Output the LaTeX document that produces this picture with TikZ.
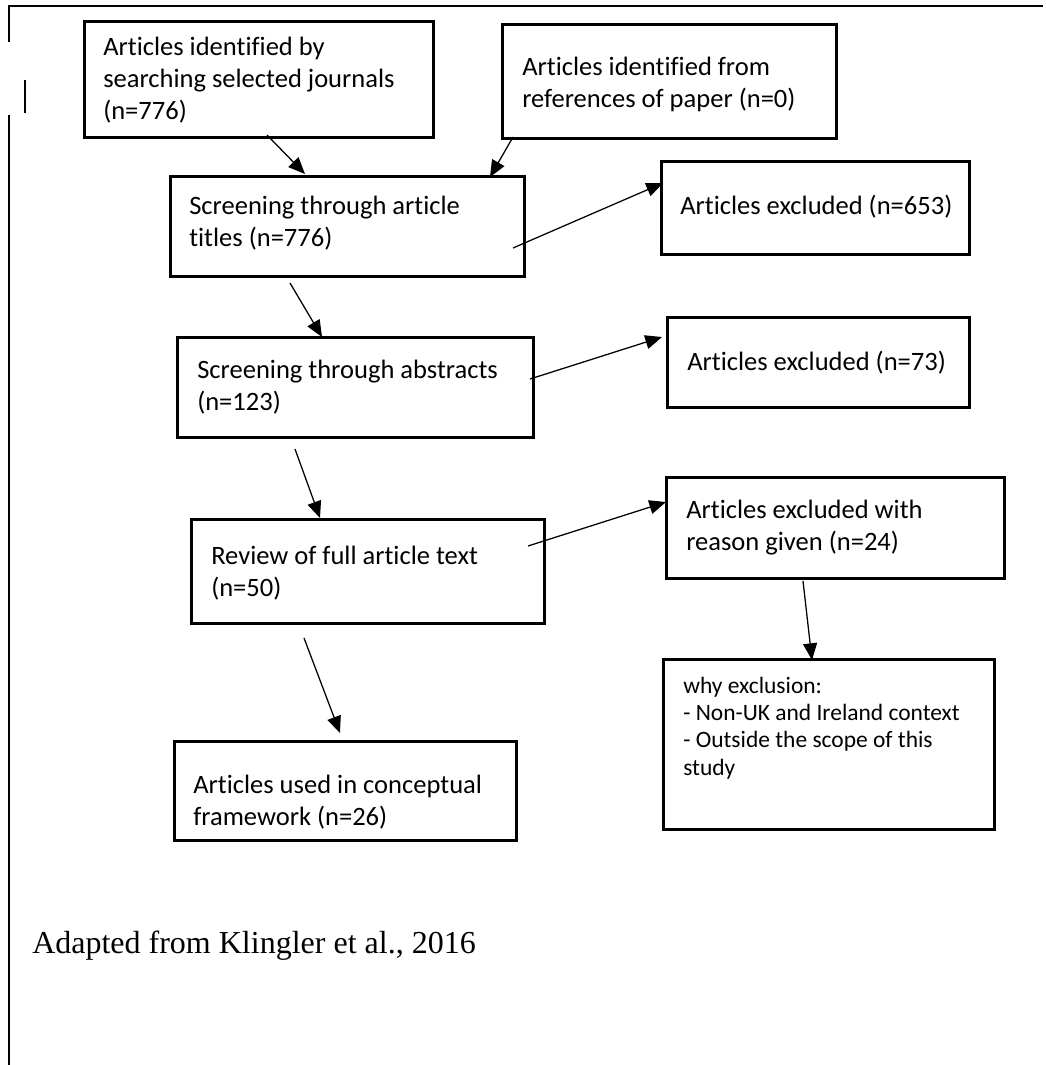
\documentclass[tikz,border=0pt]{standalone}
\usepackage{fontspec}
\setmainfont{Carlito}[Ligatures={NoCommon,NoContextual}]
\newfontfamily\capfont{Liberation Serif}
\usetikzlibrary{arrows.meta}
\newcommand\ml[2][24pt]{\vtop{\baselineskip=#1\halign{##\hfil\cr#2\crcr}}}
\newcommand\bx[5]{\node[box, anchor=north west, minimum width={(#4-#2)*0.75pt}, minimum height={(#5-#3)*0.75pt}] (#1) at (#2,#3) {};}
\begin{document}
\begin{tikzpicture}[x=0.75pt,y=-0.75pt,
  box/.style={draw=black, line width=2.1pt, inner sep=0pt, fill=none},
  txt/.style={inner sep=0pt, anchor=base west, font=\fontsize{19.9pt}{24pt}\selectfont},
  smalltxt/.style={inner sep=0pt, anchor=base west, font=\fontsize{17.6pt}{20.6pt}\selectfont},
  arr/.style={line width=0.95pt, -{Triangle[length=12.5pt, width=10.5pt]}},
  frame/.style={line width=2pt}]
\useasboundingbox (0,0) rectangle (1046,1065);
% frame fragments
\draw[frame] (9,42) -- (9,6) -- (1043,6);
\draw[frame] (25,80) -- (25,113);
\draw[frame] (9,115) -- (9,1065);
% boxes
\bx{b1}{83}{20}{432}{136}
\bx{b2}{501}{23}{835}{137}
\bx{b3}{169}{175}{523}{275}
\bx{b4}{660}{160}{968}{253}
\bx{b5}{176}{336}{532}{436}
\bx{b6}{666}{316}{968}{406}
\bx{b7}{190}{518}{543}{622}
\bx{b8}{665}{476}{1003}{577}
\bx{b9}{662}{658}{993}{828}
\bx{b10}{173}{740}{515}{839}
% texts
\node[txt] (t1) at (103,55) {\ml{Articles identified by\cr searching selected journals\cr (n=776)}};
\node[txt] (t2) at (522,75) {\ml{Articles identified from\cr references of paper (n=0)}};
\node[txt] (t3) at (189,214) {\ml{Screening through article\cr titles (n=776)}};
\node[txt] (t4) at (680,214) {Articles excluded (n=653)};
\node[txt] (t5) at (197,378) {\ml{Screening through abstracts\cr (n=123)}};
\node[txt] (t6) at (687,370) {Articles excluded (n=73)};
\node[txt] (t7) at (211,564) {\ml{Review of full article text\cr (n=50)}};
\node[txt] (t8) at (686,518) {\ml{Articles excluded with\cr reason given (n=24)}};
\node[smalltxt] (t9) at (683,693) {\ml[20.6pt]{why exclusion:\cr - Non-UK and Ireland context\cr - Outside the scope of this\cr study}};
\node[txt] (t10) at (193,793) {\ml{Articles used in conceptual\cr framework (n=26)}};
\node[inner sep=0pt, anchor=base west, font=\capfont\fontsize{24pt}{28pt}\selectfont] (cap) at (32,953) {Adapted from Klingler et al., 2016};
% connector end points
\coordinate (a1s) at (267,135); \coordinate (a1e) at (305,174);
\coordinate (a2s) at (513,137); \coordinate (a2e) at (490,177);
\coordinate (a3s) at (513,248); \coordinate (a3e) at (663,183);
\coordinate (a4s) at (290,283); \coordinate (a4e) at (322,337);
\coordinate (a5s) at (530,379); \coordinate (a5e) at (662,337);
\coordinate (a6s) at (295,449); \coordinate (a6e) at (320,518);
\coordinate (a7s) at (528,546); \coordinate (a7e) at (666,502);
\coordinate (a8s) at (803,581); \coordinate (a8e) at (812,660);
\coordinate (a9s) at (304,638); \coordinate (a9e) at (340,733);
\draw[arr] (a1s) -- (a1e);
\draw[arr] (a2s) -- (a2e);
\draw[arr] (a3s) -- (a3e);
\draw[arr] (a4s) -- (a4e);
\draw[arr] (a5s) -- (a5e);
\draw[arr] (a6s) -- (a6e);
\draw[arr] (a7s) -- (a7e);
\draw[arr] (a8s) -- (a8e);
\draw[arr] (a9s) -- (a9e);
\end{tikzpicture}
\end{document}
